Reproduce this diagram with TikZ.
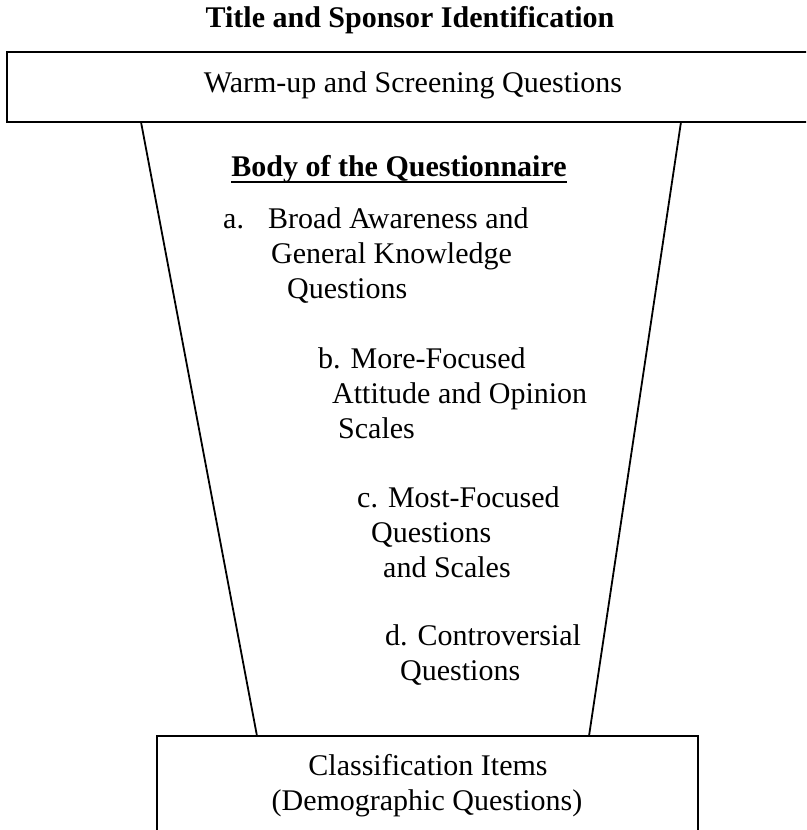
\documentclass[tikz,border=0pt]{standalone}
\usepackage{fontspec}
\setmainfont{Liberation Serif}
\begin{document}
\begin{tikzpicture}[x=1pt,y=-1pt,
  txt/.style={inner sep=0pt,anchor=base west,font=\fontsize{30}{34}\selectfont},
  ctxt/.style={inner sep=0pt,anchor=base,font=\fontsize{30}{34}\selectfont},
  btxt/.style={inner sep=0pt,anchor=base,font=\bfseries\fontsize{30}{34}\selectfont},
  frame/.style={line width=2pt,draw=black},
  edge/.style={line width=1.8pt,draw=black}]
\useasboundingbox (0,0) rectangle (806,830);
\clip (0,0) rectangle (806,830);

% heading
\node[btxt] (title) at (410,27) {Title and Sponsor Identification};

% top box (runs off the right edge)
\coordinate (topNW) at (7,52);
\coordinate (topSE) at (830,122);
\draw[frame] (topNW) rectangle (topSE);
\node[ctxt] (warm) at (413,92) {Warm-up and Screening Questions};

% bottom box (runs off the bottom edge)
\coordinate (botNW) at (157,736);
\coordinate (botSE) at (698,850);
\draw[frame] (botNW) rectangle (botSE);
\node[ctxt] (cls1) at (428,775) {Classification Items};
\node[ctxt] (cls2) at (427,810) {(Demographic Questions)};

% funnel sides
\coordinate (fTL) at (141,122);
\coordinate (fTR) at (681,122);
\coordinate (fBL) at (257,736);
\coordinate (fBR) at (589,736);
\draw[edge] (fTL) -- (fBL);
\draw[edge] (fTR) -- (fBR);

% body heading
\node[btxt] (body) at (399,176) {Body of the Questionnaire};
\draw[line width=2.6pt] ([yshift=-6pt]body.base west) -- ([yshift=-6pt]body.base east);

% list
\node[txt] (a0) at (223,228) {a.};
\node[txt] (a1) at (268,228) {Broad Awareness and};
\node[txt] (a2) at (271,263) {General Knowledge};
\node[txt] (a3) at (287,298) {Questions};

\node[txt] (b1) at (318,368) {b. More-Focused};
\node[txt] (b2) at (332,403) {Attitude and Opinion};
\node[txt] (b3) at (338,438) {Scales};

\node[txt] (c1) at (357,507) {c. Most-Focused};
\node[txt] (c2) at (371,542) {Questions};
\node[txt] (c3) at (383,577) {and Scales};

\node[txt] (d1) at (385,645) {d. Controversial};
\node[txt] (d2) at (400,680) {Questions};
\end{tikzpicture}
\end{document}
